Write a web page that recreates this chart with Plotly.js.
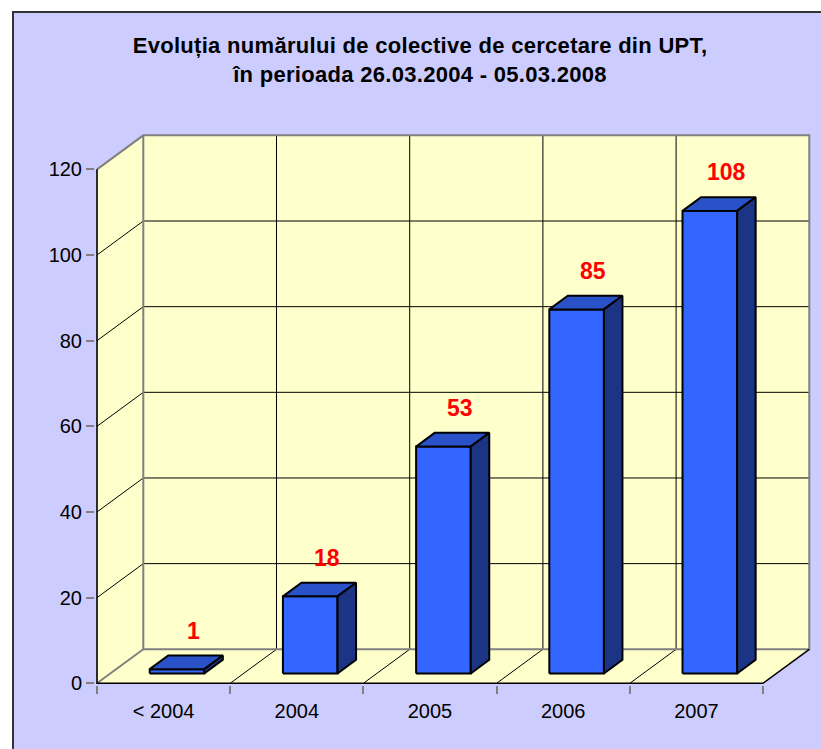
<!DOCTYPE html>
<html>
<head>
<meta charset="utf-8">
<script src="https://cdn.plot.ly/plotly-3.0.1.min.js"></script>
<style>
  html, body { margin: 0; padding: 0; background: #ffffff; }
  #chart { width: 821px; height: 749px; }
  .gtitle { letter-spacing: 0.3px; }
</style>
</head>
<body>
<div id="chart"></div>
<script>
// ---- data ----
const categories = ['< 2004', '2004', '2005', '2006', '2007'];
const values = [1, 18, 53, 85, 108];
const yTickValues = [0, 20, 40, 60, 80, 100, 120];
const chartTitle = 'Evoluția numărului de colective de cercetare din UPT,<br>în perioada 26.03.2004 - 05.03.2008';

// ---- geometry (pixel targets -> axis ranges) ----
const W = 821, H = 749;
const PX0 = 97, PXU = 133.2;      // x = 0 at 97px, one category = 133.2px
const PY0 = 683.3, PYU = 4.283;   // y = 0 at 683.3px, one unit = 4.283px
const plotL = 95, plotR = 811, plotT = 133, plotB = 685;
const xRange = [(plotL - PX0) / PXU, (plotR - PX0) / PXU];
const yRange = [(PY0 - plotB) / PYU, (PY0 - plotT) / PYU];
const N = categories.length;
const YMAX = 120;
const DX = 46.3 / PXU, DY = 34 / PYU;   // 3D depth offset
const Z0 = 0.29, ZD = 0.40, BW = 0.41;  // bar depth start, bar depth, bar width

const WALL = '#FFFFCC', EDGE = '#808080', GRID = '#000000';
const FRONT = '#3366FF', TOP = '#2A52C8', SIDE = '#1B3483';

const traces = [];
function poly(xs, ys, fill, lineColor, lineWidth) {
  traces.push({
    type: 'scatter', mode: 'lines', x: xs, y: ys,
    fill: fill ? 'toself' : 'none', fillcolor: fill || undefined,
    line: { color: lineColor || 'rgba(0,0,0,0)', width: lineWidth || 0 },
    hoverinfo: 'skip', showlegend: false
  });
}
function seg(pts, color, width) {
  poly(pts.map(p => p[0]), pts.map(p => p[1]), null, color, width);
}

// walls
poly([0, 0, DX, DX, 0], [0, YMAX, YMAX + DY, DY, 0], WALL);
poly([DX, N + DX, N + DX, DX, DX], [DY, DY, YMAX + DY, YMAX + DY, DY], WALL);
poly([0, N, N + DX, DX, 0], [0, 0, DY, DY, 0], WALL);

// gridlines
yTickValues.filter(v => v > 0 && v < YMAX).forEach(v => {
  seg([[0, v], [DX, v + DY], [N + DX, v + DY]], GRID, 1);
});
for (let i = 1; i < N; i++) {
  seg([[i, 0], [i + DX, DY], [i + DX, YMAX + DY]], GRID, 1);
}

// wall edges
seg([[0, YMAX], [DX, YMAX + DY], [N + DX, YMAX + DY], [N + DX, DY], [DX, DY], [DX, YMAX + DY]], EDGE, 2);
seg([[0, 0], [DX, DY]], EDGE, 2);

// front edges
seg([[0, YMAX], [0, 0], [N, 0], [N + DX, DY]], '#000000', 1.6);

// bars
values.forEach((v, i) => {
  const cx = i + 0.5 + Z0 * DX;
  const xl = cx - BW / 2, xr = cx + BW / 2;
  const yb = Z0 * DY, yt = yb + v;
  const ox = ZD * DX, oy = ZD * DY;
  poly([xl, xr, xr, xl, xl], [yb, yb, yt, yt, yb], FRONT, '#000000', 2);
  poly([xl, xr, xr + ox, xl + ox, xl], [yt, yt, yt + oy, yt + oy, yt], TOP, '#000000', 2);
  poly([xr, xr + ox, xr + ox, xr, xr], [yb, yb + oy, yt + oy, yt, yb], SIDE, '#000000', 2);
});

// dummy trace for the label axis
traces.push({ type: 'scatter', mode: 'markers', x: categories.map((c, i) => i + 0.5), y: categories.map(() => null),
  xaxis: 'x2', yaxis: 'y', hoverinfo: 'skip', showlegend: false });

const FONT = 'Arial, "Liberation Sans", sans-serif';

const annotations = values.map((v, i) => ({
  x: i + 0.5 + 0.225, y: v + 11.3, xref: 'x', yref: 'y',
  text: String(v), showarrow: false, xanchor: 'center', yanchor: 'middle',
  font: { family: FONT, size: 23, color: '#FF0000', weight: 'bold' }
}));

const toPaperX = px => (px - plotL) / (plotR - plotL);
const toPaperY = py => (plotB - py) / (plotB - plotT);

const layout = {
  width: W, height: H,
  margin: { l: plotL, r: W - plotR, t: plotT, b: H - plotB, pad: 0 },
  paper_bgcolor: '#ffffff', plot_bgcolor: 'rgba(0,0,0,0)',
  showlegend: false,
  title: {
    text: chartTitle,
    font: { family: FONT, size: 22, color: '#000000', weight: 'bold' },
    x: 420 / W, xref: 'container', xanchor: 'center',
    y: 1 - 53 / H, yref: 'container', yanchor: 'top'
  },
  xaxis: {
    range: xRange, tickmode: 'array', tickvals: categories.map((c, i) => i).concat([N]),
    showticklabels: false, ticks: 'outside', ticklen: 8, tickwidth: 2, tickcolor: EDGE,
    showgrid: false, zeroline: false, showline: false, fixedrange: true
  },
  xaxis2: {
    overlaying: 'x', anchor: 'y', side: 'bottom', range: xRange,
    tickmode: 'array', tickvals: categories.map((c, i) => i + 0.5), ticktext: categories,
    ticks: '', ticklabelstandoff: 12,
    tickfont: { family: FONT, size: 20, color: '#000000' },
    showgrid: false, zeroline: false, showline: false, fixedrange: true
  },
  yaxis: {
    range: yRange, tickmode: 'array', tickvals: yTickValues,
    ticks: 'outside', ticklen: 8, tickwidth: 2, tickcolor: EDGE,
    tickfont: { family: FONT, size: 20, color: '#000000' },
    showgrid: false, zeroline: false, showline: false, fixedrange: true
  },
  shapes: [{
    type: 'rect', xref: 'paper', yref: 'paper', layer: 'below',
    x0: toPaperX(13), x1: toPaperX(830), y0: toPaperY(760), y1: toPaperY(12),
    fillcolor: '#CCCCFF', line: { color: '#333333', width: 2 }
  }],
  annotations: annotations
};

Plotly.newPlot('chart', traces, layout, { displayModeBar: false, staticPlot: true });
</script>
</body>
</html>
